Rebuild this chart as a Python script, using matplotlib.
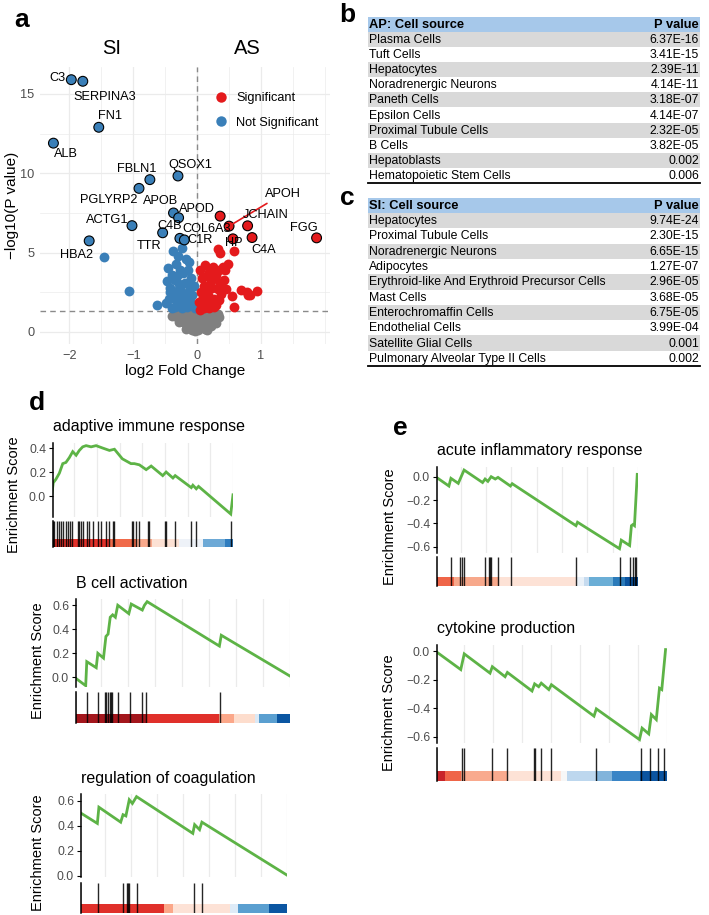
import matplotlib
matplotlib.use('Agg')
import matplotlib.pyplot as plt
from matplotlib.ticker import FuncFormatter
from matplotlib.lines import Line2D
from matplotlib.patches import Rectangle

# ---------------- data ----------------
# volcano: labelled genes (log2FC, -log10 p) and where their labels sit
genes = ['C3', 'SERPINA3', 'FN1', 'ALB', 'FBLN1', 'PGLYRP2', 'QSOX1', 'APOB', 'APOD', 'ACTG1',
         'C4B', 'HBA2', 'TTR', 'C1R', 'COL6A3', 'APOH', 'JCHAIN', 'HP', 'C4A', 'FGG']
gene_fc = [-1.97, -1.79, -1.54, -2.25, -0.74, -0.91, -0.30, -0.37, -0.29, -1.02,
           -0.54, -1.69, -0.27, -0.20, 0.36, 0.50, 0.79, 0.56, 0.86, 1.87]
gene_p = [15.9, 15.8, 12.9, 11.9, 9.6, 9.05, 9.83, 7.5, 7.2, 6.7,
          6.25, 5.74, 5.9, 5.8, 7.3, 6.67, 6.69, 5.87, 5.95, 5.93]
label_x = [-2.18, -1.45, -1.37, -2.06, -0.94, -1.39, -0.11, -0.58, 0.0, -1.40,
           -0.43, -1.88, -0.76, 0.04, 0.15, 1.06, 1.07, 0.57, 1.04, 1.67]
label_y = [16.0, 14.8, 13.6, 11.2, 10.25, 8.3, 10.5, 8.25, 7.77, 7.05,
           6.67, 4.87, 5.44, 5.78, 6.52, 8.7, 7.4, 5.61, 5.15, 6.56]

# unlabelled points
blue_fc = [-0.38, -0.24, -0.30, -0.18, -0.45, -0.33, -0.27, -0.12, -0.40, -0.22,
           -0.35, -0.15, -0.47, -0.28, -0.09, -0.42, -0.19, -0.31, -0.05, -0.37,
           -0.25, -0.13, -0.44, -0.21, -0.33, -0.08, -0.48, -0.29, -0.16, -0.39,
           -0.24, -0.06, -0.35, -0.19, -0.43, -0.11, -0.27, -0.32, -0.14, -0.04,
           -1.46, -1.07, -0.63]
blue_p = [5.1, 5.3, 4.8, 4.6, 4.0, 4.3, 3.9, 4.4, 3.6, 3.7,
          3.3, 3.9, 3.2, 3.0, 3.4, 2.8, 3.1, 2.6, 2.9, 2.4,
          2.2, 2.6, 2.1, 1.9, 2.0, 2.3, 1.8, 1.7, 1.6, 1.5,
          1.5, 1.7, 1.6, 2.4, 2.5, 2.0, 2.7, 3.5, 3.0, 1.5,
          4.7, 2.6, 1.7]
red_fc = [0.05, 0.12, 0.18, 0.25, 0.30, 0.08, 0.15, 0.22, 0.34, 0.40,
          0.10, 0.20, 0.28, 0.36, 0.44, 0.06, 0.14, 0.24, 0.32, 0.42, 0.48,
          0.09, 0.17, 0.27, 0.38, 0.03, 0.13, 0.21, 0.30, 0.45,
          0.07, 0.19, 0.26, 0.35, 0.11, 0.04, 0.33, 0.36, 0.58,
          0.55, 0.57, 0.68, 0.78, 0.80, 0.83, 0.93]
red_p = [3.9, 4.2, 3.8, 4.1, 3.6, 3.4, 3.5, 3.2, 3.9, 4.1,
         2.9, 3.0, 3.4, 3.0, 3.9, 2.5, 2.6, 2.8, 2.7, 3.3, 4.3,
         2.2, 2.3, 2.1, 2.4, 1.9, 1.8, 1.9, 1.7, 2.7,
         1.6, 1.5, 1.6, 2.0, 1.5, 1.4, 5.2, 5.0, 5.1,
         2.24, 1.6, 2.66, 2.5, 2.35, 2.3, 2.55]
grey_fc = [-0.35, -0.25, -0.15, -0.05, 0.05, 0.15, 0.25, 0.32, -0.30, -0.20, -0.10, 0.0, 0.10, 0.20, 0.28,
           -0.22, -0.12, -0.02, 0.08, 0.18, -0.16, -0.06, 0.04, 0.14, 0.22, -0.08, 0.02, 0.12,
           -0.40, 0.35, -0.28, 0.30, -0.18, 0.16, -0.04, 0.06]
grey_p = [1.2, 1.25, 1.1, 1.2, 1.25, 1.15, 1.2, 1.1, 0.9, 0.95, 0.85, 1.0, 0.9, 0.95, 0.8,
          0.6, 0.65, 0.7, 0.6, 0.65, 0.35, 0.4, 0.45, 0.35, 0.4, 0.15, 0.1, 0.2,
          1.0, 0.95, 0.6, 0.55, 0.2, 0.15, 0.05, 0.3]

# tables
ap_cells = ['Plasma Cells', 'Tuft Cells', 'Hepatocytes', 'Noradrenergic Neurons', 'Paneth Cells',
            'Epsilon Cells', 'Proximal Tubule Cells', 'B Cells', 'Hepatoblasts', 'Hematopoietic Stem Cells']
ap_pvals = ['6.37E-16', '3.41E-15', '2.39E-11', '4.14E-11', '3.18E-07',
            '4.14E-07', '2.32E-05', '3.82E-05', '0.002', '0.006']
si_cells = ['Hepatocytes', 'Proximal Tubule Cells', 'Noradrenergic Neurons', 'Adipocytes',
            'Erythroid-like And Erythroid Precursor Cells', 'Mast Cells', 'Enterochromaffin Cells',
            'Endothelial Cells', 'Satellite Glial Cells', 'Pulmonary Alveolar Type II Cells']
si_pvals = ['9.74E-24', '2.30E-15', '6.65E-15', '1.27E-07', '2.96E-05',
            '3.68E-05', '6.75E-05', '3.99E-04', '0.001', '0.002']

# GSEA running scores (rank, ES), hit ranks, heat bar breaks
adapt_rank = [0, 7, 19, 34, 49, 63, 78, 93, 108, 122, 137, 152, 174, 196, 225, 255, 277, 312, 350, 365,
              387, 417, 439, 490, 505, 535, 545, 616, 623, 638, 648, 790, 800]
adapt_es = [0.00, 0.11, 0.14, 0.19, 0.27, 0.28, 0.32, 0.37, 0.34, 0.38, 0.41, 0.42, 0.41, 0.42, 0.40,
            0.38, 0.39, 0.31, 0.27, 0.27, 0.26, 0.22, 0.25, 0.17, 0.20, 0.15, 0.17, 0.07, 0.09, 0.06,
            0.08, -0.15, 0.01]
adapt_hits = [4, 12, 22, 34, 41, 49, 63, 71, 82, 90, 115, 122, 130, 137, 155, 166, 184, 203, 218, 240,
              255, 269, 277, 355, 361, 370, 387, 424, 431, 498, 505, 542, 613, 638, 790]
adapt_bar = [0, 253, 373, 444, 564, 667, 764, 800]
adapt_col = ['#E2312A', '#F06A4A', '#F9A98C', '#FCE1D4', '#EEF2F8', '#6DA9D6', '#2F7DBF']

bcell_rank = [0, 42, 46, 81, 87, 108, 117, 125, 133, 142, 152, 161, 202, 211, 252, 260, 270, 538, 545, 800]
bcell_es = [0.0, -0.07, 0.13, 0.08, 0.20, 0.16, 0.34, 0.36, 0.50, 0.52, 0.50, 0.60, 0.53, 0.61,
            0.56, 0.60, 0.63, 0.26, 0.35, 0.01]
bcell_hits = [2, 47, 86, 115, 118, 125, 132, 137, 140, 161, 205, 252, 264, 541]
bcell_bar = [0, 264, 536, 594, 669, 685, 753, 800]
bcell_col = ['#A3161C', '#E0302A', '#FBA789', '#FDDDCD', '#DCE9F5', '#5A9FD0', '#0B56A2']

coag_rank = [0, 69, 75, 159, 168, 179, 192, 204, 220, 437, 444, 463, 472, 800]
coag_es = [0.51, 0.42, 0.55, 0.43, 0.49, 0.48, 0.61, 0.58, 0.635, 0.34, 0.41, 0.37, 0.43, 0.005]
coag_hits = [1, 72, 166, 182, 188, 192, 220, 440, 472]
coag_bar = [0, 327, 360, 580, 612, 729, 800]
coag_col = ['#E0302A', '#FBA789', '#FDE2D6', '#DEEBF7', '#5A9FD0', '#0B56A2']

acute_rank = [0, 53, 61, 90, 113, 186, 196, 207, 220, 236, 247, 296, 303, 555, 561, 727, 734, 767,
              774, 780, 786, 797]
acute_es = [0.0, -0.08, -0.014, -0.057, 0.057, -0.05, -0.02, -0.04, 0.0, -0.02, -0.006, -0.08, -0.06,
            -0.42, -0.39, -0.617, -0.544, -0.59, -0.42, -0.41, -0.42, 0.02]
acute_hits = [0, 60, 97, 104, 111, 194, 210, 214, 220, 247, 300, 555, 730, 770, 780, 788, 792]
acute_bar = [0, 11, 74, 249, 555, 588, 608, 701, 747, 800]
acute_col = ['#B51F26', '#EF6548', '#F7A88B', '#FDE2D6', '#EAF1F8', '#C6DBEF', '#6BAED6', '#2B7BBA', '#0B54A0']

cyto_rank = [0, 88, 100, 189, 197, 241, 249, 334, 343, 357, 366, 392, 401, 548, 556, 705, 714, 737,
             746, 763, 774, 782, 795]
cyto_es = [0.0, -0.13, -0.02, -0.155, -0.11, -0.18, -0.15, -0.28, -0.23, -0.25, -0.225, -0.27, -0.236,
           -0.456, -0.405, -0.62, -0.54, -0.58, -0.445, -0.48, -0.26, -0.27, 0.01]
cyto_hits = [1, 93, 100, 195, 247, 340, 345, 366, 400, 554, 709, 743, 768, 788]
cyto_bar = [0, 35, 90, 247, 435, 456, 556, 609, 706, 800]
cyto_col = ['#C8252A', '#EF6548', '#F9AA8E', '#FDE2D6', '#F7F7F7', '#BDD7EE', '#82B4DB', '#3A85C6', '#0B54A0']

# ---------------- figure ----------------
W, H = 709, 915
plt.rcParams['font.family'] = ['Liberation Sans', 'DejaVu Sans']
fig = plt.figure(figsize=(W / 100, H / 100), dpi=100)


def box(l, t, r, b):
    a = fig.add_axes([l / W, 1 - b / H, (r - l) / W, (b - t) / H])
    a.set_facecolor('none')
    return a


bg = fig.add_axes([0, 0, 1, 1], zorder=-1)
bg.set_xlim(0, W)
bg.set_ylim(H, 0)
bg.axis('off')

RED, BLUE, GREY = '#E41A1C', '#3A7FB8', '#808080'
TXT = '#4D4D4D'

# ---- a: volcano ----
ax = box(40, 67, 330, 344)
ax.set_xlim(-2.46, 2.08)
ax.set_ylim(-0.76, 16.7)
ax.set_xticks([-2, -1, 0, 1])
ax.set_xticks([-1.5, -0.5, 0.5, 1.5, 2.0], minor=True)
ax.set_yticks([0, 5, 10, 15])
ax.set_yticks([2.5, 7.5, 12.5], minor=True)
ax.grid(which='major', color='#EBEBEB', lw=0.9)
ax.grid(which='minor', color='#EBEBEB', lw=0.5)
ax.set_axisbelow(True)
for s in ax.spines.values():
    s.set_visible(False)
ax.tick_params(which='both', length=0, labelsize=9.2, labelcolor=TXT, pad=4)
ax.axvline(0, color='#8A8A8A', ls=(0, (4, 3)), lw=1.0, zorder=1)
ax.axhline(1.3, color='#8A8A8A', ls=(0, (4, 3)), lw=1.0, zorder=1)

ax.scatter(grey_fc, grey_p, s=50, color=GREY, lw=0, zorder=2)
ax.scatter(blue_fc, blue_p, s=50, color=BLUE, lw=0, zorder=2)
ax.scatter(red_fc, red_p, s=50, color=RED, lw=0, zorder=2)
gene_col = [RED if v > 0 else BLUE for v in gene_fc]
ax.scatter(gene_fc, gene_p, s=50, color=gene_col, edgecolor='black', lw=0.8, zorder=3)
for g, gx, gy, tx, ty in zip(genes, gene_fc, gene_p, label_x, label_y):
    if g == 'APOH':
        ax.annotate(g, xy=(gx, gy), xytext=(tx, ty), ha='left', va='center', fontsize=9.2,
                    arrowprops=dict(arrowstyle='-', color=RED, lw=1.2, shrinkA=1, shrinkB=3), zorder=4)
    else:
        ax.text(tx, ty, g, ha='center', va='center', fontsize=9.2, zorder=4)

ax.set_xlabel('log2 Fold Change', fontsize=11, labelpad=2)
ax.set_ylabel('\u2212log10(P value)', fontsize=11)
ax.yaxis.set_label_coords((19 - 40) / 290, 0.5)
handles = [Line2D([], [], ls='', marker='o', ms=7.5, color=RED, mec='none'),
           Line2D([], [], ls='', marker='o', ms=7.5, color=BLUE, mec='none')]
ax.legend(handles, ['Significant', 'Not Significant'], loc='upper left', frameon=False,
          bbox_to_anchor=(207 / W, 1 - 86 / H), bbox_transform=fig.transFigure,
          fontsize=9.2, handletextpad=0.6, labelspacing=0.95, handlelength=1.2, borderpad=0)
bg.text(112, 48, 'SI', fontsize=14.5, ha='center', va='center')
bg.text(247, 48, 'AS', fontsize=14.5, ha='center', va='center')


# ---- b, c: tables ----
def table(top, head_h, row_h, header, cells, pvals):
    bg.add_patch(Rectangle((368, top), 332, head_h, fc='#A6C8EA', lw=0))
    bg.text(369, top + head_h / 2 + 0.5, header, fontsize=9.3, weight='bold', va='center')
    bg.text(699, top + head_h / 2 + 0.5, 'P value', fontsize=9.3, weight='bold', va='center', ha='right')
    for i, (c, p) in enumerate(zip(cells, pvals)):
        y0 = top + head_h + i * row_h
        if i % 2 == 0:
            bg.add_patch(Rectangle((368, y0), 332, row_h, fc='#D9D9D9', lw=0))
        bg.text(369, y0 + row_h / 2 + 0.5, c, fontsize=8.8, va='center')
        bg.text(699, y0 + row_h / 2 + 0.5, p, fontsize=8.8, va='center', ha='right')
    yb = top + head_h + len(cells) * row_h
    bg.plot([368, 700], [yb, yb], color='black', lw=1.3)


table(17, 15, 15.1, 'AP: Cell source', ap_cells, ap_pvals)
table(198, 15, 15.3, 'SI: Cell source', si_cells, si_pvals)

# ---- d, e: GSEA ----
minus = FuncFormatter(lambda v, _: f'{v:.1f}'.replace('-', '\u2212'))


def gsea(es_box, rug_box, title, xs, ys, hits, edges, colors, ylim, yticks, ylab_xy):
    a = box(*es_box)
    a.plot(xs, ys, color='#5DB346', lw=2.0, solid_joinstyle='miter')
    a.set_xlim(6, 800)
    a.set_ylim(*ylim)
    a.set_xticks(range(100, 801, 100))
    a.tick_params(axis='x', length=0, labelbottom=False)
    a.grid(axis='x', color='#EBEBEB', lw=0.9)
    a.set_axisbelow(True)
    for s in ['top', 'right', 'bottom']:
        a.spines[s].set_visible(False)
    a.spines['left'].set_linewidth(1.1)
    a.set_yticks(yticks)
    a.yaxis.set_major_formatter(minus)
    a.tick_params(axis='y', length=3, width=0.8, labelsize=8.8, labelcolor=TXT, pad=2)

    r = box(*rug_box)
    r.set_xlim(6, 800)
    r.set_ylim(0, 1)
    for x0, x1, c in zip(edges[:-1], edges[1:], colors):
        r.axvspan(x0, x1, ymin=0, ymax=0.3, color=c, lw=0)
    r.vlines(hits, 0, 1, color='black', lw=1.0, alpha=0.85)
    for s in ['top', 'right', 'bottom']:
        r.spines[s].set_visible(False)
    r.spines['left'].set_linewidth(1.1)
    r.set_xticks([])
    r.set_yticks([])

    bg.text(es_box[0], es_box[1] - 16, title, fontsize=11.5, ha='left', va='center')
    bg.text(ylab_xy[0], ylab_xy[1], 'Enrichment Score', fontsize=10.5, rotation=90,
            ha='center', va='center')


gsea((53, 443, 233, 517), (53, 521, 233, 547), 'adaptive immune response',
     adapt_rank, adapt_es, adapt_hits, adapt_bar, adapt_col, (-0.175, 0.442), [0.0, 0.2, 0.4], (14, 495))
gsea((76, 599, 290, 687), (76, 692, 290, 723), 'B cell activation',
     bcell_rank, bcell_es, bcell_hits, bcell_bar, bcell_col, (-0.081, 0.652), [0.0, 0.2, 0.4, 0.6], (38, 661))
gsea((81, 794, 287, 877), (81, 883, 287, 913), 'regulation of coagulation',
     coag_rank, coag_es, coag_hits, coag_bar, coag_col, (-0.01, 0.656), [0.0, 0.2, 0.4, 0.6], (38, 853))
gsea((437, 467, 638, 553), (437, 557, 638, 586), 'acute inflammatory response',
     acute_rank, acute_es, acute_hits, acute_bar, acute_col, (-0.654, 0.083), [0.0, -0.2, -0.4, -0.6], (390, 527))
gsea((437, 645, 667, 743), (437, 748, 667, 781), 'cytokine production',
     cyto_rank, cyto_es, cyto_hits, cyto_bar, cyto_col, (-0.644, 0.042), [0.0, -0.2, -0.4, -0.6], (389, 713))

# panel letters
for lab, lx, ly in [('a', 22, 20), ('b', 347, 15), ('c', 347, 198), ('d', 37, 403), ('e', 400, 428)]:
    bg.text(lx, ly, lab, fontsize=19, weight='bold', ha='center', va='center')

fig.savefig('out.png', dpi=100)
